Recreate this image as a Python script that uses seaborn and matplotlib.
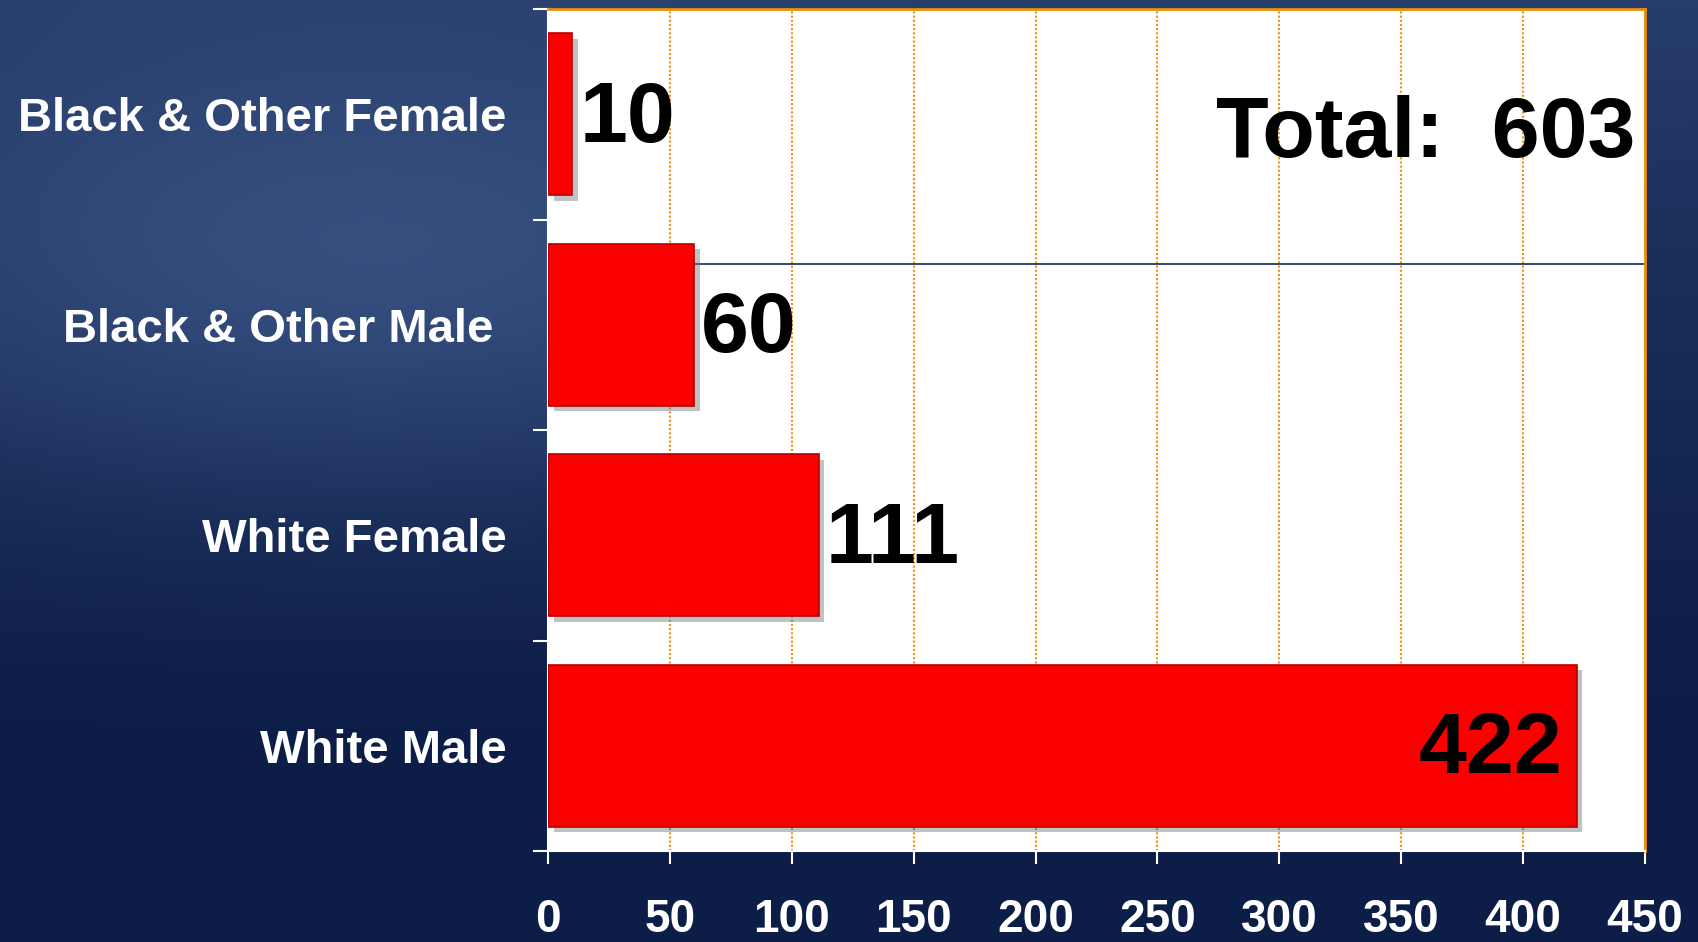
import numpy as np
import pandas as pd
import matplotlib
matplotlib.use("Agg")
import matplotlib.pyplot as plt
import matplotlib.patheffects as pe
import seaborn as sns

categories = ["Black & Other Female", "Black & Other Male ", "White Female", "White Male"]
values = [10, 60, 111, 422]
xticks = [0, 50, 100, 150, 200, 250, 300, 350, 400, 450]

sns.set_theme(style="white")
plt.rcParams["font.family"] = ["Liberation Sans", "DejaVu Sans"]

W, H = 1698, 942
fig = plt.figure(figsize=(W / 100, H / 100), dpi=100)

# background gradient
bg = fig.add_axes([0, 0, 1, 1], zorder=-5)
yy, xx = np.mgrid[0:1:300j, 0:1:540j]
dark = np.array([0x0C, 0x1D, 0x47]) / 255
light = np.array([0x3C, 0x56, 0x87]) / 255
blob = np.exp(-(((xx - 0.22) ** 2) / 0.12 + ((yy - 0.3) ** 2) / 0.06))
f = 0.55 * np.clip(1 - yy * 1.25, 0, 1) ** 1.3 + 0.55 * blob
f = np.clip(f, 0, 1)
img = dark + (light - dark) * f[..., None]
bg.imshow(img, aspect="auto", extent=[0, 1, 0, 1], origin="upper")
bg.set_axis_off()

ax = fig.add_axes([548 / W, 1 - 851 / H, 1097 / W, 842 / H])
ax.set_facecolor("white")

df = pd.DataFrame({"category": categories, "value": values})
sns.barplot(data=df, x="value", y="category", orient="h", color="#FA0000",
            saturation=1, width=0.77, edgecolor="#B80000", linewidth=1.2,
            ax=ax, zorder=3)
for p in ax.patches:
    p.set_path_effects([pe.SimplePatchShadow(offset=(4, -4), shadow_rgbFace="#777777", alpha=0.45),
                        pe.Normal()])

ax.set_xlim(0, 450)
ax.set_ylim(3.5, -0.5)
ax.set_xticks(xticks)
ax.set_xticklabels([str(t) for t in xticks])
ax.set_xlabel("")
ax.set_ylabel("")

ax.xaxis.grid(True, color="#F0900F", linestyle=(0, (1, 1)), linewidth=1.5, zorder=0)
ax.yaxis.grid(False)
ax.set_axisbelow(True)
ax.axhline(0.71, color="#1F3A6E", linewidth=1.3, zorder=1)

for side in ["top", "right"]:
    ax.spines[side].set_color("#E8900A")
    ax.spines[side].set_linewidth(2)
for side in ["left", "bottom"]:
    ax.spines[side].set_color("white")
    ax.spines[side].set_linewidth(1.5)

# y: labels at centres without tick marks, tick marks at boundaries
ax.tick_params(axis="y", which="major", length=0, pad=30, labelcolor="white", labelsize=34)
ax.set_yticks([-0.5, 0.5, 1.5, 2.5, 3.5], minor=True)
ax.tick_params(axis="y", which="minor", length=11, width=1.5, color="white", left=True)
ax.tick_params(axis="x", which="major", length=9, width=1.5, color="white", bottom=True,
               pad=25, labelcolor="white", labelsize=33)
for lab in ax.get_yticklabels():
    lab.set_fontweight("bold")
for lab in ax.get_xticklabels():
    lab.set_fontweight("bold")

for i, v in enumerate(values):
    if v > 300:
        ax.annotate(str(v), (v, i), xytext=(-10, -4), textcoords="offset points",
                    ha="right", va="center", fontsize=62, fontweight="bold", color="black", zorder=5)
    else:
        ax.annotate(str(v), (v, i), xytext=(5, -4), textcoords="offset points",
                    ha="left", va="center", fontsize=62, fontweight="bold", color="black", zorder=5)

ax.text(0.991, 0.85, f"Total:  {sum(values)}", transform=ax.transAxes, ha="right", va="center",
        fontsize=62, fontweight="bold", color="black", zorder=5)

fig.savefig("out.png", dpi=100)
